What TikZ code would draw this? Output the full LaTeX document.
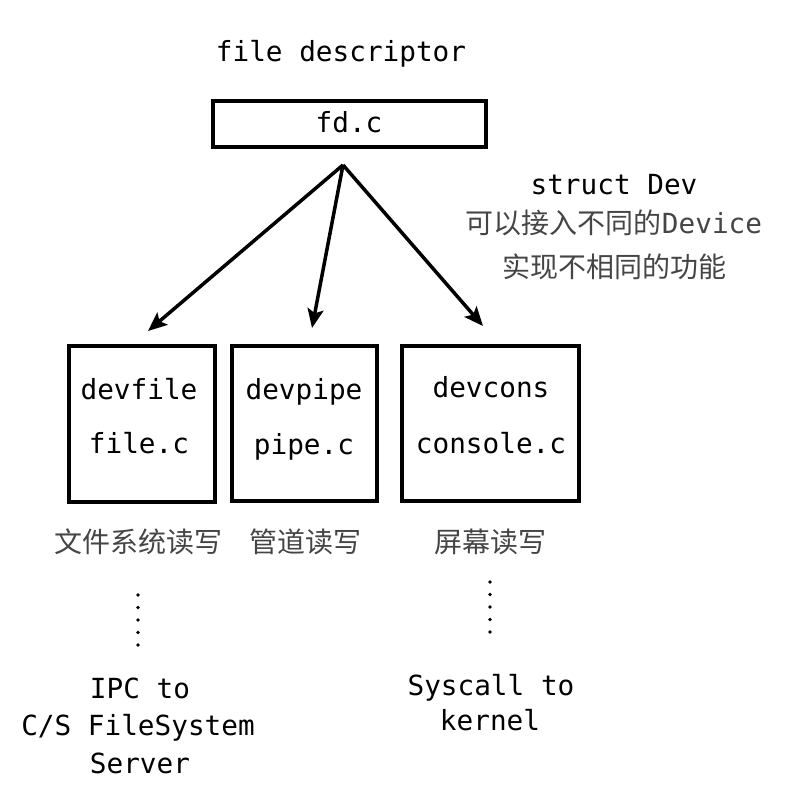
\documentclass[tikz,border=0pt]{standalone}
\usepackage{fontspec}
\setmonofont{DejaVu Sans Mono}
\newfontfamily\cjk{Noto Sans CJK SC}
\usetikzlibrary{arrows.meta}
\definecolor{cngray}{gray}{0.27}
\tikzset{
  mono/.style={font=\fontsize{27.7}{30}\ttfamily, inner sep=0pt, anchor=base},
  cn/.style={font=\fontsize{28}{32}\cjk, text=cngray, inner sep=0pt, anchor=base},
  cnmix/.style={font=\fontsize{27.7}{32}\ttfamily, text=cngray, inner sep=0pt, anchor=base},
  devbox/.style={draw, line width=3.3pt, inner sep=0pt},
  arr/.style={line width=3.5pt, -{Stealth[length=19pt,width=16pt,inset=4pt]}},
  dot/.style={circle, fill=black, inner sep=0pt, minimum size=3.8pt}
}
\begin{document}
\begin{tikzpicture}[x=1pt,y=-1pt]
\useasboundingbox (0,0) rectangle (800,805);
% top
\node[mono] (fdtitle) at (341,62) {file descriptor};
\node[devbox, minimum width=273pt, minimum height=46pt] (fdbox) at (349.5,124) {};
\node[mono] (fdtext) at (349,133) {fd.c};
% right annotation
\node[mono] (structdev) at (614,194) {struct Dev};
\node[cnmix] (anno1) at (614,233) {{\fontsize{28}{32}\cjk 可以接入不同的}Device};
\node[cn] (anno2) at (614,277) {实现不相同的功能};
% boxes
\node[devbox, minimum width=146pt, minimum height=156pt] (bfile) at (142,424) {};
\node[devbox, minimum width=145pt, minimum height=155pt] (bpipe) at (304.5,423.5) {};
\node[devbox, minimum width=177pt, minimum height=155pt] (bcons) at (490.5,423.5) {};
\node[mono] (t1a) at (139,399) {devfile};
\node[mono] (t1b) at (139,453) {file.c};
\node[mono] (t2a) at (304,399) {devpipe};
\node[mono] (t2b) at (304,454) {pipe.c};
\node[mono] (t3a) at (491,397) {devcons};
\node[mono] (t3b) at (491,453) {console.c};
% arrows
\coordinate (src) at (343,165);
\coordinate (e1) at (148,331);
\coordinate (e2) at (312,328);
\coordinate (e3) at (483,326);
\draw[arr] (src) -- (e1);
\draw[arr] (src) -- (e2);
\draw[arr] (src) -- (e3);
% chinese labels
\node[cn] (l1) at (138,552) {文件系统读写};
\node[cn] (l2) at (305,552) {管道读写};
\node[cn] (l3) at (490,552) {屏幕读写};
% dots
\foreach \i in {0,...,4} {
  \node[dot] (dl\i) at (138,595+12.5*\i) {};
  \node[dot] (dr\i) at (490,582+12.5*\i) {};
}
% bottom texts
\node[mono] (ipc1) at (140,698) {IPC to};
\node[mono] (ipc2) at (138,735) {C/S FileSystem};
\node[mono] (ipc3) at (140,773) {Server};
\node[mono] (sys1) at (491,695) {Syscall to};
\node[mono] (sys2) at (490,730) {kernel};
\end{tikzpicture}
\end{document}
